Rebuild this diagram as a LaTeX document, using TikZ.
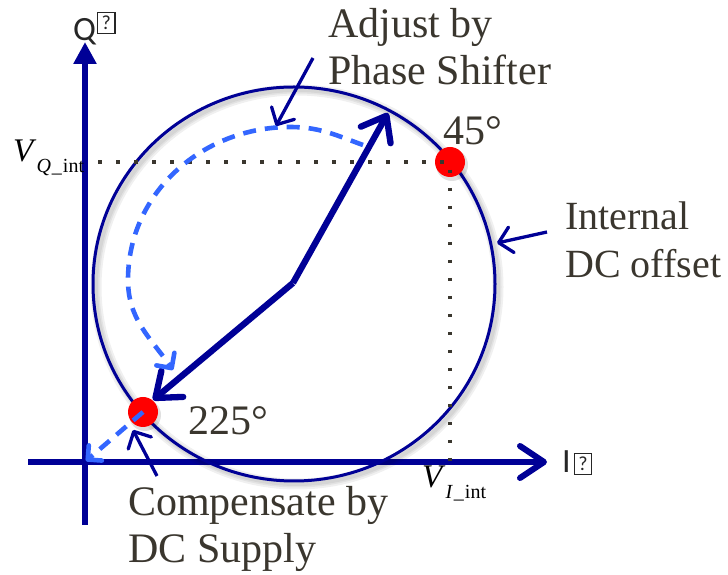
\documentclass[tikz,border=0pt]{standalone}
\usepackage{fontspec}
\setmainfont{Liberation Serif}
\newfontfamily\axisfont{Carlito}
\usetikzlibrary{arrows.meta,positioning}
\definecolor{navyline}{RGB}{0,0,150}
\definecolor{phaseblue}{RGB}{51,102,255}
\definecolor{inkgray}{RGB}{58,54,46}
\newcommand{\glyphbox}[1]{\raisebox{#1}{\setlength\fboxsep{0pt}\setlength\fboxrule{1.3pt}\fbox{\makebox[16pt]{\rule[-3pt]{0pt}{19.5pt}\fontsize{20}{20}\selectfont ?}}}}
\newcommand{\vint}[1]{\textit{V}\raisebox{-11pt}{\fontsize{20}{20}\selectfont\textit{#1}\kern1pt\_\kern1pt int}}

\begin{document}
\begin{tikzpicture}[x=1pt,y=1pt,
  axis/.style={line width=6pt,draw=navyline},
  vec/.style={line width=6.3pt,draw=navyline,-{Straight Barb[length=22pt,width=34pt,round]}},
  pointer/.style={line width=3.3pt,draw=navyline,-{Straight Barb[length=13pt,width=26pt,round]}},
  phase/.style={line width=4.6pt,draw=phaseblue,dash pattern=on 13pt off 9pt,-{Straight Barb[length=11pt,width=22pt,round]}},
  guide/.style={line width=3.5pt,draw=inkgray,dash pattern=on 3.5pt off 14.5pt},
  lbl/.style={inner sep=0,anchor=base west,text=inkgray,font=\fontsize{42}{47}\selectfont,align=left},
  dot/.style={circle,fill=red,minimum size=30pt,inner sep=0},
  shade/.style={draw=black,opacity=.06},
]
\useasboundingbox (0,0) rectangle (728,575);

% axes
\coordinate (ybot) at (85,50);
\coordinate (ytop) at (85,533);
\coordinate (xleft) at (28,113);
\coordinate (xright) at (547,113);
\draw[axis,-{Triangle[length=22pt,width=22pt]}] (ybot) -- (ytop);
\draw[axis,-{Straight Barb[length=24pt,width=32pt,round]}] (xleft) -- (xright);
\node[lbl,text=black!85,font=\axisfont\fontsize{34}{34}\selectfont] (qlab) at (73,534) {Q\kern1pt\glyphbox{11pt}};
\node[lbl,text=black!85,font=\axisfont\fontsize{34}{34}\selectfont] (ilab) at (562,102) {I\kern3pt\glyphbox{2pt}};

% offset circle
\coordinate (ctr) at (294,291);
\foreach \w in {11,7,4}
  \draw[shade,line width=\w pt] ([shift={(3,-3)}]ctr) ellipse[x radius=201,y radius=197];
\draw[navyline,line width=3pt] (ctr) ellipse[x radius=201,y radius=197];

% phase points
\foreach \p/\q in {450/413,143/163}
  \fill[black,opacity=.12] (\p+2,\q-3) circle[radius=16];
\node[dot] (p45) at (450,413) {};
\node[dot] (p225) at (143,163) {};

\draw[guide] (98,413) -- (p45.center) -- (450,113);

% rotating vector
\coordinate (v0) at (293,292);
\coordinate (v45) at (388,462);
\coordinate (v225) at (153,175);
\draw[vec] (v0) -- (v45);
\draw[vec] (v0) -- (v225);

\coordinate (arcA) at (363,430);
\coordinate (arcB) at (290,448);
\coordinate (arcC) at (128,295);
\coordinate (arcD) at (173,205);
\draw[phase] (arcA) to[out=160,in=0] (arcB) to[out=180,in=90] (arcC) to[out=270,in=125] (arcD);
\coordinate (origin) at (86,114);
\draw[phase,-{Straight Barb[length=10pt,width=20pt,round]}] (p225.center) -- (origin);

% labels
\node[lbl] (adjust) at (328,490) {Adjust by\\Phase Shifter};
\node[lbl,font=\fontsize{40}{48}\selectfont] (internal) at (565,297) {Internal\\DC offset};
\node[lbl] (compensate) at (128,12) {Compensate by\\DC Supply};
\node[lbl] (deg45) at (443,430) {45°};
\node[lbl] (deg225) at (188,140) {225°};
\node[lbl,text=black,font=\fontsize{33}{33}\selectfont] (vq) at (13,413) {\vint{Q}};
\node[lbl,text=black,font=\fontsize{33}{33}\selectfont] (vi) at (422,87) {\vint{I}};

\coordinate (adjtail) at (313,517);
\coordinate (adjhead) at (276,449);
\coordinate (inttail) at (547,343);
\coordinate (inthead) at (497,332);
\coordinate (comptail) at (157,99);
\coordinate (comphead) at (133,145);
\draw[pointer] (adjtail) -- (adjhead);
\draw[pointer] (inttail) -- (inthead);
\draw[pointer] (comptail) -- (comphead);
\end{tikzpicture}
\end{document}
